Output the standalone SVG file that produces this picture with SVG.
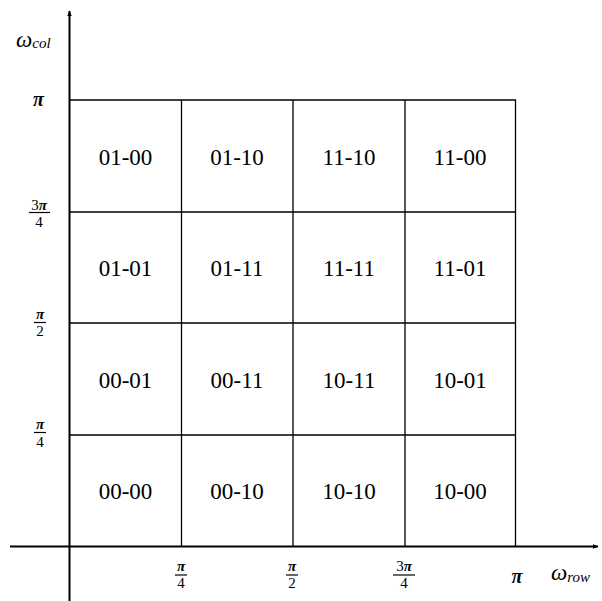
<svg xmlns="http://www.w3.org/2000/svg" width="602" height="601" viewBox="0 0 602 601">
<style>
.cell{font-family:"Liberation Serif",serif;font-size:23px;fill:#000;text-anchor:middle}
.m{font-family:"Liberation Serif",serif;font-style:italic;fill:#000}
.f{font-family:"Liberation Serif",serif;font-size:15px;fill:#000;text-anchor:middle}
.p{font-style:italic;font-weight:bold}
.grid{stroke:#000;stroke-width:1.3;fill:none}
.axis{stroke:#000;stroke-width:2;fill:none}
.bar{stroke:#000;stroke-width:1.2}
</style>
<defs>
<marker id="ah" viewBox="0 0 10 10" refX="9" refY="5" markerWidth="6" markerHeight="6" orient="auto" markerUnits="userSpaceOnUse">
<path d="M0,1 L10,5 L0,9 z" fill="#000"/>
</marker>
</defs>
<g id="connectors">
<line class="axis" x1="10" y1="546.5" x2="598" y2="546.5" marker-end="url(#ah)"/>
<line class="axis" x1="69.5" y1="601" x2="69.5" y2="11" marker-end="url(#ah)"/>
<path class="grid" d="M70,100 H515.5 V546.5 M181.5,100 V546.5 M293,100 V546.5 M405,100 V546.5 M70,212 H515.5 M70,323 H515.5 M70,435 H515.5"/>
</g>
<g id="cells">
<g id="c-01-00"><text class="cell" x="125.5" y="165">01-00</text></g>
<g id="c-01-10"><text class="cell" x="237" y="165">01-10</text></g>
<g id="c-11-10"><text class="cell" x="349" y="165">11-10</text></g>
<g id="c-11-00"><text class="cell" x="460" y="165">11-00</text></g>
<g id="c-01-01"><text class="cell" x="125.5" y="276">01-01</text></g>
<g id="c-01-11"><text class="cell" x="237" y="276">01-11</text></g>
<g id="c-11-11"><text class="cell" x="349" y="276">11-11</text></g>
<g id="c-11-01"><text class="cell" x="460" y="276">11-01</text></g>
<g id="c-00-01"><text class="cell" x="125.5" y="388">00-01</text></g>
<g id="c-00-11"><text class="cell" x="237" y="388">00-11</text></g>
<g id="c-10-11"><text class="cell" x="349" y="388">10-11</text></g>
<g id="c-10-01"><text class="cell" x="460" y="388">10-01</text></g>
<g id="c-00-00"><text class="cell" x="125.5" y="499">00-00</text></g>
<g id="c-00-10"><text class="cell" x="237" y="499">00-10</text></g>
<g id="c-10-10"><text class="cell" x="349" y="499">10-10</text></g>
<g id="c-10-00"><text class="cell" x="460" y="499">10-00</text></g>
</g>
<g id="labels">
<text class="m" x="16" y="47" font-size="23">ω<tspan font-size="15" dy="1">col</tspan></text>
<text class="m" x="551" y="580" font-size="23">ω<tspan font-size="15" dy="2">row</tspan></text>
<text class="m" x="38.5" y="106" font-size="20" font-weight="bold" text-anchor="middle">π</text>
<text class="f" x="39" y="209.5">3<tspan class="p">π</tspan></text>
<line class="bar" x1="29" y1="212.5" x2="50" y2="212.5"/>
<text class="f" x="39" y="227">4</text>
<text class="f p" x="40" y="319">π</text>
<line class="bar" x1="34" y1="322.5" x2="46" y2="322.5"/>
<text class="f" x="40" y="336">2</text>
<text class="f p" x="40" y="429">π</text>
<line class="bar" x1="34" y1="432.5" x2="46" y2="432.5"/>
<text class="f" x="40" y="447">4</text>
<text class="f p" x="181" y="571">π</text>
<line class="bar" x1="175" y1="575" x2="187" y2="575"/>
<text class="f" x="181" y="588">4</text>
<text class="f p" x="292" y="571">π</text>
<line class="bar" x1="286" y1="575" x2="298" y2="575"/>
<text class="f" x="292" y="588">2</text>
<text class="f" x="404" y="571">3<tspan class="p">π</tspan></text>
<line class="bar" x1="393" y1="575" x2="415" y2="575"/>
<text class="f" x="404" y="588">4</text>
<text class="m" x="517" y="583" font-size="20" font-weight="bold" text-anchor="middle">π</text>
</g>
</svg>
